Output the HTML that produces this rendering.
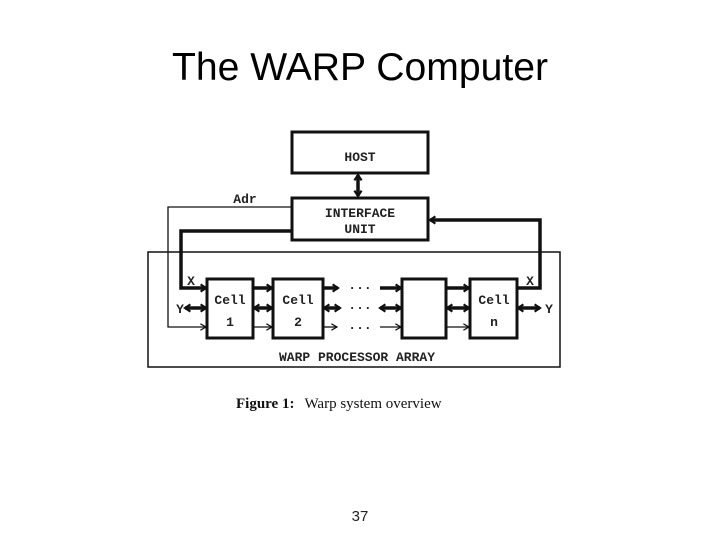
<!DOCTYPE html>
<html><head><style>
html,body{margin:0;padding:0;background:#fff;width:720px;height:540px;overflow:hidden}
</style></head><body>
<svg width="720" height="540" viewBox="0 0 720 540" xmlns="http://www.w3.org/2000/svg">
<defs>
<marker id="a" viewBox="0 0 10 10" refX="8" refY="5" markerUnits="userSpaceOnUse" markerWidth="9" markerHeight="11" orient="auto-start-reverse"><path d="M2,1 L8,5 L2,9" fill="none" stroke="#111" stroke-width="2.4"/></marker>
<marker id="t" viewBox="0 0 10 10" refX="9" refY="5" markerUnits="userSpaceOnUse" markerWidth="8" markerHeight="9" orient="auto-start-reverse"><path d="M2,1 L9,5 L2,9" fill="none" stroke="#111" stroke-width="1.5"/></marker>
</defs>
<text x="360" y="80" font-family="Liberation Sans, sans-serif" font-size="39" text-anchor="middle" fill="#000" textLength="376" lengthAdjust="spacingAndGlyphs">The WARP Computer</text>
<g stroke="#111" fill="none">
<rect x="292" y="132" width="136" height="41" stroke-width="3"/>
<rect x="292" y="198" width="136" height="42" stroke-width="3"/>
<rect x="148" y="252" width="412" height="115" stroke-width="1.5"/>
<rect x="207" y="279" width="46" height="59" stroke-width="3"/>
<rect x="273" y="279" width="50" height="59" stroke-width="3"/>
<rect x="402" y="279" width="44" height="59" stroke-width="3"/>
<rect x="470" y="279" width="47" height="59" stroke-width="3"/>
<g stroke-width="3.5">
<line x1="358" y1="175" x2="358" y2="196" marker-start="url(#a)" marker-end="url(#a)"/>
<polyline points="292,231 181,231 181,288 206,288" marker-end="url(#a)"/>
<polyline points="517,288 540,288 540,220 430,220" marker-end="url(#a)"/>
<line x1="253" y1="288" x2="272" y2="288" marker-end="url(#a)"/>
<line x1="323" y1="288" x2="338" y2="288" marker-end="url(#a)"/>
<line x1="380" y1="288" x2="401" y2="288" marker-end="url(#a)"/>
<line x1="446" y1="288" x2="469" y2="288" marker-end="url(#a)"/>
<line x1="185" y1="308" x2="206" y2="308" marker-start="url(#a)" marker-end="url(#a)"/>
<line x1="254" y1="308" x2="272" y2="308" marker-start="url(#a)" marker-end="url(#a)"/>
<line x1="324" y1="308" x2="340" y2="308" marker-start="url(#a)" marker-end="url(#a)"/>
<line x1="380" y1="308" x2="401" y2="308" marker-start="url(#a)" marker-end="url(#a)"/>
<line x1="447" y1="308" x2="469" y2="308" marker-start="url(#a)" marker-end="url(#a)"/>
<line x1="518" y1="308" x2="540" y2="308" marker-start="url(#a)" marker-end="url(#a)"/>
</g>
<g stroke-width="1.3">
<polyline points="292,207 168,207 168,327 206,327" marker-end="url(#t)"/>
<line x1="253" y1="327" x2="272" y2="327" marker-end="url(#t)"/>
<line x1="323" y1="327" x2="337" y2="327" marker-end="url(#t)"/>
<line x1="380" y1="327" x2="401" y2="327" marker-end="url(#t)"/>
<line x1="446" y1="327" x2="469" y2="327" marker-end="url(#t)"/>
</g>
</g>
<g font-family="Liberation Mono, monospace" font-size="13" font-weight="bold" fill="#222" text-anchor="middle">
<text x="360" y="161">HOST</text>
<text x="360" y="217">INTERFACE</text>
<text x="360" y="233">UNIT</text>
<text x="245" y="203">Adr</text>
<text x="230" y="304">Cell</text><text x="230" y="326">1</text>
<text x="298" y="304">Cell</text><text x="298" y="326">2</text>
<text x="494" y="304">Cell</text><text x="494" y="326">n</text>
<text x="191" y="285">X</text>
<text x="180" y="313">Y</text>
<text x="530" y="285">X</text>
<text x="549" y="313">Y</text>
<text x="360" y="289">...</text>
<text x="360" y="309">...</text>
<text x="360" y="329">...</text>
<text x="357" y="361">WARP PROCESSOR ARRAY</text>
</g>
<text x="236" y="408" font-family="Liberation Serif, serif" font-size="15" fill="#111"><tspan font-weight="bold">Figure 1:</tspan><tspan dx="10">Warp system overview</tspan></text>
<text x="360" y="521" font-family="Liberation Sans, sans-serif" font-size="15" text-anchor="middle" fill="#222">37</text>
</svg>
</body></html>
